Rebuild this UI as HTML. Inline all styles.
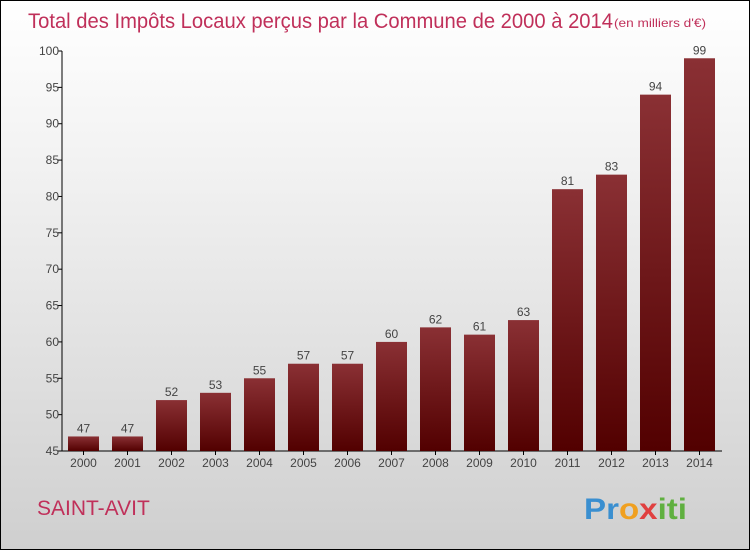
<!DOCTYPE html>
<html><head><meta charset="utf-8"><style>
body{margin:0;width:750px;height:550px;overflow:hidden}
#c{position:absolute;left:0;top:0;width:748px;height:548px;border:1px solid #000;background:linear-gradient(#ffffff,#f2f2f2 30%,#cfcfcf)}
svg text{font-family:"Liberation Sans",sans-serif}
</style></head><body>
<div id="c">
<svg width="750" height="550" id="s">
<defs><linearGradient id="g" x1="0" y1="0" x2="0" y2="1"><stop offset="0" stop-color="#8a3034"/><stop offset="1" stop-color="#520000"/></linearGradient></defs>
<text x="27" y="27" font-size="21" fill="#c0305a" textLength="585" lengthAdjust="spacingAndGlyphs">Total des Impôts Locaux perçus par la Commune de 2000 à 2014</text>
<text x="613" y="26" font-size="12" fill="#c0305a" textLength="92" lengthAdjust="spacingAndGlyphs">(en milliers d'€)</text>
<text x="36" y="514" font-size="21" fill="#c0305a">SAINT-AVIT</text>
<text x="583" y="518" font-size="30" font-weight="bold" fill="#3a8fd0" textLength="103" lengthAdjust="spacingAndGlyphs">Pr<tspan fill="#f0a020">o</tspan><tspan fill="#e04040">x</tspan><tspan fill="#60b040">iti</tspan></text>
<g id="ax"></g><g id="bars"></g>
</svg></div>
<script>
const years=["2000","2001","2002","2003","2004","2005","2006","2007","2008","2009","2010","2011","2012","2013","2014"];
const values=[47,47,52,53,55,57,57,60,62,61,63,81,83,94,99];
const yTicks=[45,50,55,60,65,70,75,80,85,90,95,100];
const NS="http://www.w3.org/2000/svg";
const x0=61,step=44,yMin=45,yMax=100,yB=450,yT=50;
const y=v=>yB-(v-yMin)/(yMax-yMin)*(yB-yT);
const xc=i=>x0+step/2+step*i-0.5;
function mk(t,a,p){const e=document.createElementNS(NS,t);for(const k in a)e.setAttribute(k,a[k]);p.appendChild(e);return e;}
const ax=document.getElementById('ax'),bg=document.getElementById('bars');
const yl=mk('line',{x1:x0,y1:yT,x2:x0,y2:yB,stroke:'#000'},ax);


const xl=mk('line',{x1:x0,y1:yB,x2:x0+step*years.length,y2:yB,stroke:'#000'},ax);


yTicks.forEach(v=>{
 mk('line',{x1:x0-4,y1:y(v),x2:x0,y2:y(v),stroke:'#000'},ax);
 const t=mk('text',{x:x0-3,y:y(v)+4,'font-size':12,fill:'#444','text-anchor':'end'},ax);t.textContent=v;
 
 
});
years.forEach((yr,i)=>{
 mk('line',{x1:xc(i),y1:yB,x2:xc(i),y2:yB+4,stroke:'#000'},ax);
 const t=mk('text',{x:xc(i),y:yB+16,'font-size':12,fill:'#444','text-anchor':'middle'},ax);t.textContent=yr;
 
 
 const v=values[i];
 const r=mk('rect',{x:xc(i)-15.5,y:y(v),width:31,height:yB-y(v),fill:'url(#g)'},bg);
 
 
 const l=mk('text',{x:xc(i),y:y(v)-4,'font-size':12,fill:'#444','text-anchor':'middle'},bg);l.textContent=v;
 
 
});
</script>
</body></html>
